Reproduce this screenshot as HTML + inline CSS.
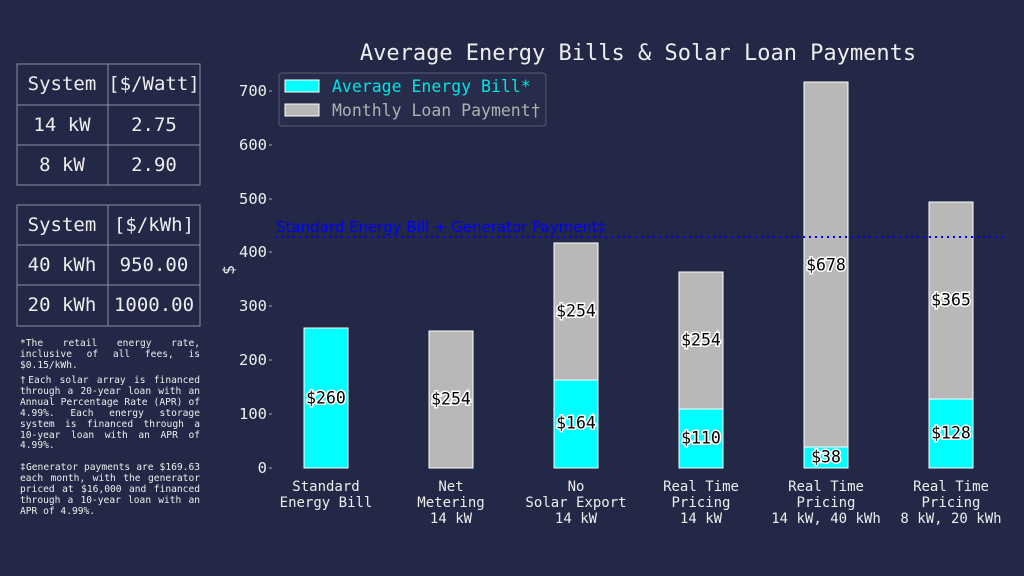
<!DOCTYPE html>
<html><head><meta charset="utf-8"><style>
body{margin:0;width:1024px;height:576px;background:#222846;overflow:hidden;font-family:"DejaVu Sans Mono","Liberation Mono",monospace;}
svg{position:absolute;left:0;top:0}
.fn{position:absolute;left:20px;width:180px;color:#eee;font-size:9.6px;line-height:10.9px;text-align:justify;font-family:"DejaVu Sans Mono",monospace;}
</style></head><body>
<svg width="1024" height="576" xmlns="http://www.w3.org/2000/svg" font-family="DejaVu Sans Mono, monospace">
<g stroke="#8a8fa8" stroke-width="1" fill="none">
<rect x="17" y="64" width="183" height="121"/><line x1="17" y1="105" x2="200" y2="105"/><line x1="17" y1="145" x2="200" y2="145"/><line x1="108" y1="64" x2="108" y2="185"/>
<rect x="17" y="205" width="183" height="121"/><line x1="17" y1="245" x2="200" y2="245"/><line x1="17" y1="285" x2="200" y2="285"/><line x1="108" y1="205" x2="108" y2="326"/>
</g>
<g fill="#eee" font-size="19" text-anchor="middle" dominant-baseline="central">
<text x="62" y="84">System</text><text x="154" y="84">[$/Watt]</text>
<text x="62" y="125">14 kW</text><text x="154" y="125">2.75</text>
<text x="62" y="165">8 kW</text><text x="154" y="165">2.90</text>
<text x="62" y="225">System</text><text x="154" y="225">[$/kWh]</text>
<text x="62" y="265">40 kWh</text><text x="154" y="265">950.00</text>
<text x="62" y="305">20 kWh</text><text x="154" y="305">1000.00</text>
</g>
<text x="638" y="60" fill="#eee" font-size="22" text-anchor="middle">Average Energy Bills &amp; Solar Loan Payments</text>
<g fill="#eee" font-size="15.5" text-anchor="end" dominant-baseline="central">
<text x="267" y="468">0</text><text x="267" y="414">100</text><text x="267" y="360">200</text><text x="267" y="306">300</text><text x="267" y="252">400</text><text x="267" y="199">500</text><text x="267" y="145">600</text><text x="267" y="91">700</text>
</g>
<g stroke="#aaa"><line x1="269" y1="468" x2="272" y2="468"/><line x1="269" y1="414" x2="272" y2="414"/><line x1="269" y1="360" x2="272" y2="360"/><line x1="269" y1="306" x2="272" y2="306"/><line x1="269" y1="252" x2="272" y2="252"/><line x1="269" y1="199" x2="272" y2="199"/><line x1="269" y1="145" x2="272" y2="145"/><line x1="269" y1="91" x2="272" y2="91"/></g>
<text x="234" y="270" fill="#eee" font-size="16" text-anchor="middle" transform="rotate(-90 234 270)">$</text>
<g stroke="#fff" stroke-width="1">
<rect x="304" y="328" width="44" height="140" fill="#00ffff"/>
<rect x="429" y="331" width="44" height="137" fill="#b8b8b8"/>
<rect x="554" y="380" width="44" height="88" fill="#00ffff"/><rect x="554" y="243" width="44" height="137" fill="#b8b8b8"/>
<rect x="679" y="409" width="44" height="59" fill="#00ffff"/><rect x="679" y="272" width="44" height="137" fill="#b8b8b8"/>
<rect x="804" y="447" width="44" height="21" fill="#00ffff"/><rect x="804" y="82" width="44" height="365" fill="#b8b8b8"/>
<rect x="929" y="399" width="44" height="69" fill="#00ffff"/><rect x="929" y="202" width="44" height="197" fill="#b8b8b8"/>
</g>
<line x1="275" y1="237" x2="1005" y2="237" stroke="#0000ff" stroke-width="2" stroke-dasharray="2,4"/>
<text x="276" y="232" fill="#0000ff" font-family="DejaVu Sans, sans-serif" font-size="15">Standard Energy Bill + Generator Payment‡</text>
<g font-size="16.5" text-anchor="middle" dominant-baseline="central" fill="#000" stroke="#fff" stroke-width="3" paint-order="stroke">
<text x="326" y="398">$260</text><text x="451" y="399">$254</text>
<text x="576" y="311">$254</text><text x="576" y="423">$164</text>
<text x="701" y="340">$254</text><text x="701" y="438">$110</text>
<text x="826" y="265">$678</text><text x="826" y="457">$38</text>
<text x="951" y="300">$365</text><text x="951" y="433">$128</text>
</g>
<g fill="#eee" font-size="14" text-anchor="middle">
<text x="326" y="491">Standard</text><text x="326" y="507">Energy Bill</text>
<text x="451" y="491">Net</text><text x="451" y="507">Metering</text><text x="451" y="523">14 kW</text>
<text x="576" y="491">No</text><text x="576" y="507">Solar Export</text><text x="576" y="523">14 kW</text>
<text x="701" y="491">Real Time</text><text x="701" y="507">Pricing</text><text x="701" y="523">14 kW</text>
<text x="826" y="491">Real Time</text><text x="826" y="507">Pricing</text><text x="826" y="523">14 kW, 40 kWh</text>
<text x="951" y="491">Real Time</text><text x="951" y="507">Pricing</text><text x="951" y="523">8 kW, 20 kWh</text>
</g>
<rect x="279" y="73" width="267" height="53" rx="3" fill="#262c4a" stroke="#555a75"/>
<rect x="285" y="80" width="34" height="12" fill="#00ffff" stroke="#fff"/>
<rect x="285" y="104" width="34" height="12" fill="#b8b8b8" stroke="#fff"/>
<text x="332" y="92" fill="#00e5e5" font-size="16.5">Average Energy Bill*</text>
<text x="332" y="116" fill="#b0b0b0" font-size="16.5">Monthly Loan Payment†</text>
</svg>
<div class="fn" style="top:339px">*The retail energy rate, inclusive of all fees, is $0.15/kWh.</div>
<div class="fn" style="top:376px">†Each solar array is financed through a 20-year loan with an Annual Percentage Rate (APR) of 4.99%. Each energy storage system is financed through a 10-year loan with an APR of 4.99%.</div>
<div class="fn" style="top:463px">‡Generator payments are $169.63 each month, with the generator priced at $16,000 and financed through a 10-year loan with an APR of 4.99%.</div>
</body></html>
